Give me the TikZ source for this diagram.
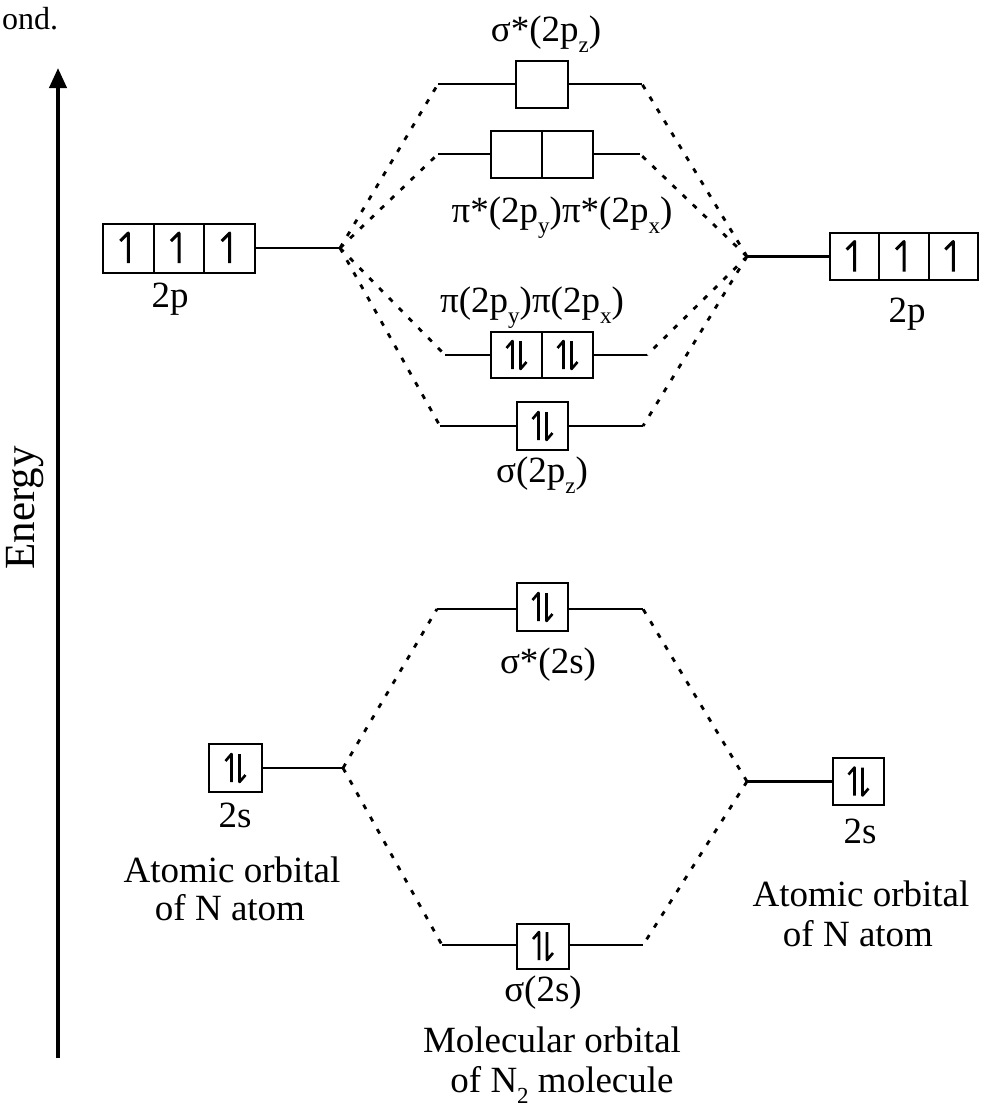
\documentclass[tikz,border=0pt]{standalone}
\usepackage{fontspec}
\setmainfont{Liberation Serif}
\usetikzlibrary{arrows.meta}
\newcommand\lsub[1]{\raisebox{-0.32em}{\fontsize{23}{23}\selectfont #1}}
\begin{document}
\begin{tikzpicture}[x=1pt,y=-1pt,
  cell/.style={draw,line width=2pt,inner sep=0pt,minimum width=51pt,minimum height=47pt},
  level/.style={line width=2.5pt},
  corr/.style={line width=2.8pt,dash pattern=on 5pt off 9pt},
  lbl/.style={font=\fontsize{37}{40}\selectfont,inner sep=0pt,anchor=base},
  harp/.style={line width=3pt,line cap=butt,line join=round},
  pics/elup/.style={code={\draw[harp] (0,15) -- (0,-15) -- (-8,-7);}},
  pics/pair/.style={code={
    \draw[harp,line width=2.6pt] (-4,14) -- (-4,-14) -- (-10,-7);
    \draw[harp,line width=2.6pt] (4,-14) -- (4,14) -- (10,7);}}
]
\useasboundingbox (0,0) rectangle (980,1111);

% trailing word of the preceding text line
\node[lbl,anchor=base west,font=\fontsize{32}{34}\selectfont] (prev) at (2,29) {ond.};

% energy axis
\coordinate (ebot) at (58,1058);
\coordinate (etop) at (58,68);
\draw[line width=4pt,-{Triangle[length=20pt,width=17pt]}] (ebot) -- (etop);
\node[lbl,rotate=90,anchor=center,font=\fontsize{43}{45}\selectfont] (energy) at (25,508) {Energy};

% ---- left atom: 2p ----
\node[cell,minimum width=50.7pt,minimum height=49pt] (Lpa) at (128.3,248) {};
\node[cell,minimum width=50.7pt,minimum height=49pt] (Lpb) at (179,248) {};
\node[cell,minimum width=50.7pt,minimum height=49pt] (Lpc) at (229.7,248) {};
\pic at (Lpa) {elup};
\pic at (Lpb) {elup};
\pic at (Lpc) {elup};
\coordinate (Lp) at (340,248);
\draw[level] (Lpc.east) -- (Lp);
\node[lbl] (Lplbl) at (170,307) {2p};

% ---- right atom: 2p ----
\node[cell,minimum width=49.3pt,minimum height=47pt] (Rpa) at (854.7,256.5) {};
\node[cell,minimum width=49.3pt,minimum height=47pt] (Rpb) at (904,256.5) {};
\node[cell,minimum width=49.3pt,minimum height=47pt] (Rpc) at (953.3,256.5) {};
\pic at (Rpa) {elup};
\pic at (Rpb) {elup};
\pic at (Rpc) {elup};
\coordinate (Rp) at (747,256.5);
\draw[level] (Rp) -- (Rpa.west);
\node[lbl] (Rplbl) at (907,322) {2p};

% ---- sigma*(2pz) ----
\node[cell,minimum width=52pt] (sspz) at (542,84) {};
\coordinate (sspzL) at (438,84);
\coordinate (sspzR) at (642,84);
\draw[level] (sspzL) -- (sspz.west) (sspz.east) -- (sspzR);
\node[lbl] (sspzlbl) at (546,41) {σ*(2p\lsub{z})};

% ---- pi*(2py) pi*(2px) ----
\node[cell] (pisa) at (516.5,154) {};
\node[cell] (pisb) at (567.5,154) {};
\coordinate (pisL) at (438,154);
\coordinate (pisR) at (640,154);
\draw[level] (pisL) -- (pisa.west) (pisb.east) -- (pisR);
\node[lbl] (pislbl) at (562,222) {π*(2p\lsub{y})π*(2p\lsub{x})};

% ---- pi(2py) pi(2px) ----
\node[lbl] (pilbl) at (532,312) {π(2p\lsub{y})π(2p\lsub{x})};
\node[cell,minimum height=46pt] (pia) at (516.5,355) {};
\node[cell,minimum height=46pt] (pib) at (567.5,355) {};
\pic at (pia) {pair};
\pic at (pib) {pair};
\coordinate (piL) at (445,355);
\coordinate (piR) at (647,355);
\draw[level] (piL) -- (pia.west) (pib.east) -- (piR);

% ---- sigma(2pz) ----
\node[cell,minimum height=48pt] (spz) at (542.5,426) {};
\pic at (spz) {pair};
\coordinate (spzL) at (440,426);
\coordinate (spzR) at (643,426);
\draw[level] (spzL) -- (spz.west) (spz.east) -- (spzR);
\node[lbl] (spzlbl) at (542,482) {σ(2p\lsub{z})};

% correlation lines, 2p
\draw[corr] (Lp) -- (sspzL) (Lp) -- (pisL) (Lp) -- (piL) (Lp) -- (spzL);
\draw[corr] (Rp) -- (sspzR) (Rp) -- (pisR) (Rp) -- (piR) (Rp) -- (spzR);

% ---- left atom: 2s ----
\node[cell,minimum width=53pt,minimum height=48pt] (Ls) at (235.5,768) {};
\pic at (Ls) {pair};
\coordinate (LsJ) at (343,768);
\draw[level] (Ls.east) -- (LsJ);
\node[lbl] (Lslbl) at (235,827) {2s};
\node[lbl] (Lsao) at (232,882) {Atomic orbital};
\node[lbl] (Lsof) at (230,920) {of N atom};

% ---- right atom: 2s ----
\node[cell,minimum height=47pt] (Rs) at (858.5,781.5) {};
\pic at (Rs) {pair};
\coordinate (RsJ) at (747,781.5);
\draw[level] (RsJ) -- (Rs.west);
\node[lbl] (Rslbl) at (860,843) {2s};
\node[lbl] (Rsao) at (861,906) {Atomic orbital};
\node[lbl] (Rsof) at (858,946) {of N atom};

% ---- sigma*(2s) ----
\node[cell,minimum height=48pt] (sss) at (542.5,607) {};
\pic at (sss) {pair};
\coordinate (sssL) at (437,609);
\coordinate (sssR) at (643,609);
\draw[level] (sssL) -- (sss.west |- sssL) (sss.east |- sssR) -- (sssR);
\node[lbl] (ssslbl) at (548,673) {σ*(2s)};

% ---- sigma(2s) ----
\node[cell,minimum width=52pt,minimum height=45pt] (ss) at (543,946) {};
\pic at (ss) {pair};
\coordinate (ssL) at (442,945);
\coordinate (ssR) at (643,945);
\draw[level] (ssL) -- (ss.west |- ssL) (ss.east |- ssR) -- (ssR);
\node[lbl] (sslbl) at (543,1001) {σ(2s)};
\node[lbl] (mo) at (552,1052) {Molecular orbital};
\node[lbl] (mof) at (562,1092) {of N\lsub{2} molecule};

% correlation lines, 2s
\draw[corr] (LsJ) -- (sssL) (LsJ) -- (ssL);
\draw[corr] (RsJ) -- (sssR) (RsJ) -- (ssR);
\end{tikzpicture}
\end{document}
